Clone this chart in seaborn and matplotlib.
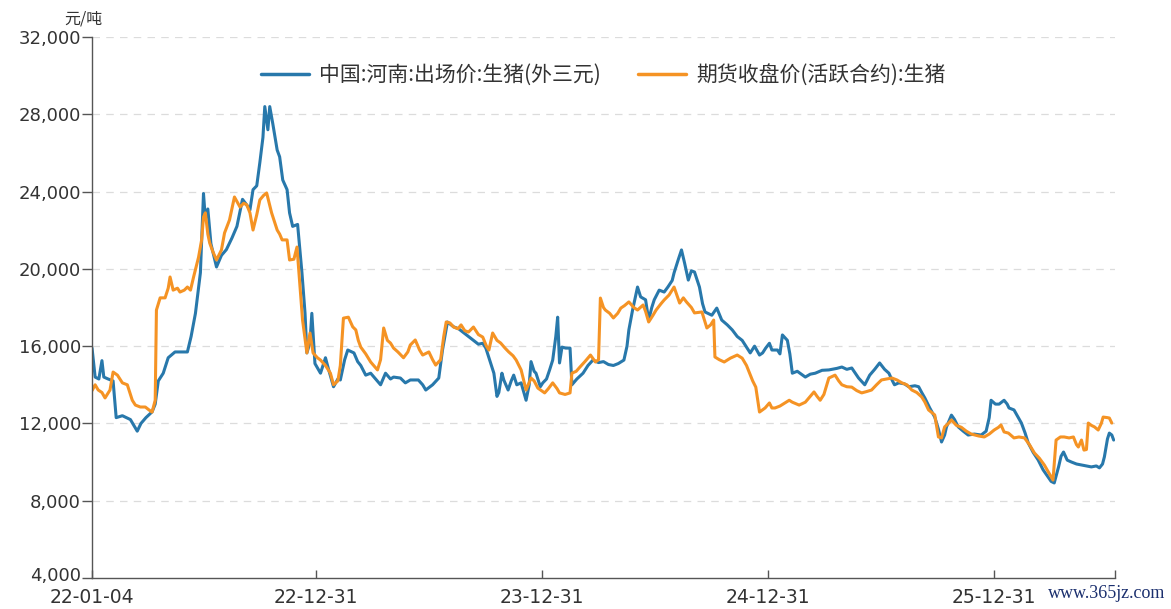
import pandas as pd
import numpy as np
import matplotlib
matplotlib.use("Agg")
import matplotlib.pyplot as plt
import matplotlib.transforms as mtransforms
from matplotlib.ticker import FuncFormatter
import seaborn as sns

# ----------------------------
# 数据
# ----------------------------
SERIES_SPOT = "中国:河南:出场价:生猪(外三元)"
SERIES_FUT = "期货收盘价(活跃合约):生猪"

spot_dates = [
    "2022-01-04", "2022-01-09", "2022-01-15", "2022-01-20", "2022-01-23", "2022-01-30", "2022-02-07",
    "2022-02-12", "2022-02-22", "2022-03-07", "2022-03-18", "2022-03-24", "2022-04-01", "2022-04-11",
    "2022-04-16", "2022-04-21", "2022-04-29", "2022-05-07", "2022-05-18", "2022-06-07", "2022-06-13",
    "2022-06-20", "2022-06-28", "2022-07-03", "2022-07-06", "2022-07-10", "2022-07-15", "2022-07-21",
    "2022-07-24", "2022-08-01", "2022-08-09", "2022-08-18", "2022-08-26", "2022-09-04", "2022-09-11",
    "2022-09-16", "2022-09-21", "2022-09-27", "2022-10-02", "2022-10-07", "2022-10-10", "2022-10-15",
    "2022-10-18", "2022-10-23", "2022-10-30", "2022-11-03", "2022-11-08", "2022-11-15", "2022-11-19",
    "2022-11-24", "2022-12-02", "2022-12-09", "2022-12-14", "2022-12-17", "2022-12-22", "2022-12-25",
    "2022-12-30",
    "2023-01-08", "2023-01-16", "2023-01-21", "2023-01-29", "2023-02-05", "2023-02-09", "2023-02-16",
    "2023-02-21", "2023-03-03", "2023-03-09", "2023-03-14", "2023-03-22", "2023-03-30", "2023-04-07",
    "2023-04-15", "2023-04-23", "2023-05-01", "2023-05-06", "2023-05-17", "2023-05-25", "2023-06-02",
    "2023-06-15", "2023-06-22", "2023-06-27", "2023-07-08", "2023-07-18", "2023-07-24", "2023-08-01",
    "2023-08-11", "2023-08-19", "2023-08-27", "2023-09-04", "2023-09-12", "2023-09-20", "2023-09-27",
    "2023-10-02", "2023-10-07", "2023-10-15", "2023-10-20", "2023-10-23", "2023-10-28", "2023-10-31",
    "2023-11-07", "2023-11-12", "2023-11-16", "2023-11-21", "2023-11-28", "2023-12-06", "2023-12-11",
    "2023-12-14", "2023-12-19", "2023-12-22", "2023-12-29",
    "2024-01-02", "2024-01-08", "2024-01-13", "2024-01-18", "2024-01-23", "2024-01-26", "2024-01-29",
    "2024-02-02", "2024-02-08", "2024-02-15", "2024-02-18", "2024-02-26", "2024-03-07", "2024-03-15",
    "2024-03-23", "2024-04-01", "2024-04-09", "2024-04-17", "2024-04-25", "2024-05-03", "2024-05-12",
    "2024-05-17", "2024-05-20", "2024-05-26", "2024-05-31", "2024-06-03", "2024-06-08", "2024-06-16",
    "2024-06-21", "2024-06-26", "2024-06-30", "2024-07-08", "2024-07-16", "2024-07-22", "2024-07-29",
    "2024-08-01", "2024-08-08", "2024-08-13", "2024-08-18", "2024-08-24", "2024-08-29", "2024-09-03",
    "2024-09-11", "2024-09-16", "2024-09-20", "2024-10-01", "2024-10-09", "2024-10-17", "2024-10-26",
    "2024-11-03", "2024-11-11", "2024-11-19", "2024-11-27", "2024-12-02", "2024-12-09", "2024-12-17",
    "2024-12-22", "2024-12-27",
    "2025-01-02", "2025-01-06", "2025-01-15", "2025-01-19", "2025-01-23", "2025-01-31", "2025-02-04",
    "2025-02-08", "2025-02-16", "2025-03-01", "2025-03-09", "2025-03-17", "2025-03-28", "2025-04-08",
    "2025-04-21", "2025-04-29", "2025-05-07", "2025-05-15", "2025-05-26", "2025-06-05", "2025-06-13",
    "2025-06-21", "2025-06-29", "2025-07-07", "2025-07-14", "2025-07-19", "2025-07-23", "2025-07-30",
    "2025-08-08", "2025-08-15", "2025-08-25", "2025-08-31", "2025-09-05", "2025-09-10", "2025-09-18",
    "2025-09-26", "2025-10-02", "2025-10-07", "2025-10-12", "2025-10-15", "2025-10-23", "2025-10-28",
    "2025-11-03", "2025-11-11", "2025-11-19", "2025-11-29", "2025-12-10", "2025-12-18", "2025-12-23",
    "2025-12-26",
    "2026-01-02", "2026-01-08", "2026-01-16", "2026-01-21", "2026-01-24", "2026-02-01", "2026-02-08",
    "2026-02-13", "2026-02-19", "2026-02-24", "2026-03-04", "2026-03-12", "2026-03-20", "2026-03-28",
    "2026-04-02", "2026-04-07", "2026-04-14", "2026-04-18", "2026-04-22", "2026-04-28", "2026-05-05",
    "2026-05-13", "2026-05-21", "2026-05-29", "2026-06-06", "2026-06-14", "2026-06-19", "2026-06-24",
    "2026-06-27", "2026-07-02", "2026-07-05", "2026-07-09", "2026-07-12",
]
spot_values = [
    15900, 14400, 14300, 15250, 14400, 14300, 14200,
    12300, 12400, 12200, 11600, 12000, 12300, 12600,
    13000, 14200, 14600, 15400, 15700, 15700, 16500,
    17700, 19800, 23900, 22600, 23100, 21300, 20500,
    20100, 20700, 21000, 21600, 22200, 23600, 23300,
    23050, 24100, 24300, 25500, 26800, 28400, 27200,
    28400, 27500, 26150, 25800, 24600, 24100, 22900,
    22200, 22300, 19800, 17700, 15650, 16200, 17700,
    15100,
    14600, 15400, 14800, 13900, 14300, 14250, 15300,
    15800, 15650, 15200, 15000, 14500, 14600, 14300,
    14000, 14600, 14300, 14400, 14350, 14100, 14250,
    14250, 14000, 13730, 14000, 14350, 15800, 17250,
    17000, 16900, 16700, 16500, 16300, 16100, 16150,
    15900, 15400, 14600, 13400, 13600, 14600, 14250,
    13730, 14200, 14500, 14000, 14100, 13200, 14000,
    15200, 14700, 14600, 13900,
    14100, 14300, 14770, 15280, 16500, 17500, 15130,
    15950, 15900, 15900, 14000, 14300, 14600, 15000,
    15280, 15150, 15200, 15050, 15000, 15100, 15280,
    16000, 16840, 17870, 18600, 19060, 18550, 18400,
    17350, 18000, 18400, 18900, 18800, 19060, 19400,
    19790, 20500, 20980, 20300, 19420, 19900, 19840,
    19060, 18200, 17770, 17600, 17970, 17350, 17100,
    16840, 16500, 16300, 15900, 15650, 16000, 15540,
    15650, 15900,
    16150, 15800, 15800, 15600, 16580, 16300, 15600,
    14600, 14700, 14400, 14550, 14600, 14750, 14770,
    14850, 14920, 14800, 14870, 14350, 14000, 14500,
    14800, 15130, 14800, 14600, 14250, 14000, 14100,
    14050, 13900, 13950, 13900, 13600, 13320, 12800,
    12330, 11700, 11040, 11400, 11820, 12430, 12200,
    11820, 11600, 11400, 11450, 11400, 11600, 12300,
    13200,
    13000, 13000, 13200, 13000, 12800, 12700, 12300,
    12020, 11500, 10990, 10500, 10110, 9600, 9230,
    9000, 8920, 9750, 10300, 10520, 10100, 10000,
    9900, 9850, 9800, 9750, 9800, 9700, 9900,
    10270, 11200, 11500, 11400, 11140,
]

fut_dates = [
    "2022-01-04", "2022-01-09", "2022-01-14", "2022-01-20", "2022-01-25", "2022-02-02", "2022-02-07",
    "2022-02-14", "2022-02-22", "2022-03-02", "2022-03-10", "2022-03-15", "2022-03-23", "2022-03-31",
    "2022-04-06", "2022-04-11", "2022-04-16", "2022-04-18", "2022-04-24", "2022-05-02", "2022-05-07",
    "2022-05-10", "2022-05-15", "2022-05-22", "2022-05-26", "2022-06-02", "2022-06-07", "2022-06-12",
    "2022-06-17", "2022-06-25", "2022-06-30", "2022-07-03", "2022-07-06", "2022-07-10", "2022-07-13",
    "2022-07-18", "2022-07-24", "2022-08-01", "2022-08-06", "2022-08-14", "2022-08-22", "2022-08-31",
    "2022-09-06", "2022-09-11", "2022-09-16", "2022-09-21", "2022-09-27", "2022-10-02", "2022-10-08",
    "2022-10-13", "2022-10-18", "2022-10-21", "2022-10-30", "2022-11-03", "2022-11-07", "2022-11-15",
    "2022-11-19", "2022-11-26", "2022-12-01", "2022-12-06", "2022-12-10", "2022-12-17", "2022-12-22",
    "2022-12-27",
    "2023-01-03", "2023-01-08", "2023-01-16", "2023-01-24", "2023-01-29", "2023-02-05", "2023-02-09",
    "2023-02-14", "2023-02-22", "2023-03-01", "2023-03-06", "2023-03-10", "2023-03-14", "2023-03-22",
    "2023-03-30", "2023-04-10", "2023-04-15", "2023-04-20", "2023-04-26", "2023-05-01", "2023-05-06",
    "2023-05-13", "2023-05-22", "2023-05-29", "2023-06-02", "2023-06-10", "2023-06-17", "2023-06-22",
    "2023-07-02", "2023-07-08", "2023-07-13", "2023-07-21", "2023-07-26", "2023-07-30", "2023-08-05",
    "2023-08-11", "2023-08-18", "2023-08-23", "2023-08-29", "2023-09-04", "2023-09-12", "2023-09-20",
    "2023-09-27", "2023-10-03", "2023-10-07", "2023-10-13", "2023-10-20", "2023-10-26", "2023-11-02",
    "2023-11-08", "2023-11-15", "2023-11-20", "2023-11-28", "2023-12-06", "2023-12-14", "2023-12-19",
    "2023-12-25",
    "2024-01-05", "2024-01-11", "2024-01-18", "2024-01-25", "2024-01-29", "2024-02-07", "2024-02-15",
    "2024-02-18", "2024-02-25", "2024-03-02", "2024-03-10", "2024-03-19", "2024-03-27", "2024-04-01",
    "2024-04-04", "2024-04-09", "2024-04-12", "2024-04-19", "2024-04-25", "2024-05-02", "2024-05-07",
    "2024-05-13", "2024-05-20", "2024-05-28", "2024-06-03", "2024-06-12", "2024-06-16", "2024-06-21",
    "2024-06-28", "2024-07-03", "2024-07-11", "2024-07-16", "2024-07-24", "2024-08-01", "2024-08-06",
    "2024-08-10", "2024-08-16", "2024-08-21", "2024-08-29", "2024-09-03", "2024-09-15", "2024-09-23",
    "2024-09-29", "2024-10-04", "2024-10-06", "2024-10-13", "2024-10-21", "2024-10-31", "2024-11-11",
    "2024-11-19", "2024-11-26", "2024-12-01", "2024-12-06", "2024-12-11", "2024-12-16", "2024-12-17",
    "2024-12-26",
    "2025-01-02", "2025-01-06", "2025-01-11", "2025-01-19", "2025-01-27", "2025-02-03", "2025-02-08",
    "2025-02-19", "2025-03-01", "2025-03-09", "2025-03-15", "2025-03-20", "2025-03-25", "2025-03-31",
    "2025-04-08", "2025-04-18", "2025-04-24", "2025-04-29", "2025-05-07", "2025-05-15", "2025-05-23",
    "2025-05-31", "2025-06-08", "2025-06-16", "2025-06-24", "2025-07-02", "2025-07-10", "2025-07-19",
    "2025-07-27", "2025-08-04", "2025-08-12", "2025-08-20", "2025-08-28", "2025-09-05", "2025-09-10",
    "2025-09-16", "2025-09-26", "2025-10-02", "2025-10-07", "2025-10-12", "2025-10-18", "2025-10-23",
    "2025-10-31", "2025-11-08", "2025-11-16", "2025-11-24", "2025-12-06", "2025-12-15", "2025-12-23",
    "2025-12-31",
    "2026-01-07", "2026-01-11", "2026-01-16", "2026-01-23", "2026-02-01", "2026-02-09", "2026-02-18",
    "2026-02-26", "2026-03-06", "2026-03-14", "2026-03-22", "2026-03-30", "2026-04-05", "2026-04-10",
    "2026-04-17", "2026-04-23", "2026-05-01", "2026-05-08", "2026-05-13", "2026-05-16", "2026-05-21",
    "2026-05-25", "2026-05-29", "2026-06-01", "2026-06-06", "2026-06-11", "2026-06-17", "2026-06-22",
    "2026-06-25", "2026-07-02", "2026-07-05", "2026-07-09",
]
fut_values = [
    13700, 14000, 13730, 13600, 13320, 13730, 14660,
    14500, 14100, 14000, 13200, 12950, 12850, 12850,
    12700, 12590, 13200, 17870, 18500, 18500, 19000,
    19580, 18900, 19000, 18800, 18900, 19060, 18900,
    19580, 20600, 21500, 22680, 22900, 21800, 21340,
    20900, 20460, 20980, 21860, 22530, 23720, 23200,
    23400, 23310, 22900, 22010, 22800, 23570, 23800,
    23930, 23300, 22900, 22010, 21800, 21500, 21500,
    20460, 20500, 21130, 19060, 17350, 15650, 16680,
    15650,
    15400, 15280, 15000, 14600, 14000, 14200, 15000,
    17450, 17500, 17000, 16840, 16300, 15950, 15600,
    15180, 14770, 15300, 16940, 16300, 16160, 15900,
    15700, 15400, 15700, 16060, 16320, 15800, 15540,
    15700, 15300, 15020, 15300, 16500, 17250, 17200,
    16990, 16900, 17100, 16800, 16730, 16990, 16600,
    16470, 16000, 15800, 16680, 16300, 16160, 15900,
    15700, 15500, 15280, 14770, 13730, 14350, 14200,
    13830,
    13580, 13800, 14100, 13800, 13580, 13500, 13580,
    14600, 14700, 14920, 15200, 15540, 15180, 15300,
    18490, 18000, 17870, 17700, 17460, 17700, 17970,
    18100, 18290, 18000, 17870, 18130, 17800, 17250,
    17600, 17870, 18200, 18390, 18650, 19060, 18600,
    18230, 18500, 18290, 18000, 17720, 17770, 16940,
    17100, 17350, 15440, 15300, 15180, 15380, 15540,
    15380, 15000, 14600, 14200, 13880, 12800, 12590,
    12800,
    13060, 12800, 12800, 12900, 13060, 13200, 13100,
    12950, 13100, 13400, 13630, 13400, 13200, 13500,
    14350, 14500, 14200, 14000, 13900, 13880, 13700,
    13580, 13650, 13730, 14000, 14250, 14300, 14350,
    14250, 14100, 14000, 13730, 13600, 13370, 13110,
    12700, 12440, 11300, 11250, 11820, 12000, 12180,
    11900, 11800, 11600, 11450, 11350, 11300, 11450,
    11660,
    11800, 11920, 11560, 11500, 11250, 11300, 11250,
    10900, 10470, 10200, 9850, 9400, 9070, 11140,
    11300, 11300, 11250, 11300, 10900, 10780, 11140,
    10620, 10650, 12020, 11900, 11820, 11660, 12000,
    12330, 12300, 12280, 12020,
]

x_tick_dates = ["2022-01-04", "2022-12-31", "2023-12-31", "2024-12-31", "2025-12-31", "2026-07-14"]
x_tick_labels = ["22-01-04", "22-12-31", "23-12-31", "24-12-31", "25-12-31", ""]
y_ticks = [4000, 8000, 12000, 16000, 20000, 24000, 28000, 32000]
unit_label = "元/吨"

COLORS = {SERIES_SPOT: "#2878AB", SERIES_FUT: "#F59324"}

df = pd.concat([
    pd.DataFrame({"date": pd.to_datetime(spot_dates), "value": spot_values, "series": SERIES_SPOT}),
    pd.DataFrame({"date": pd.to_datetime(fut_dates), "value": fut_values, "series": SERIES_FUT}),
], ignore_index=True)

# ----------------------------
# 绘图
# ----------------------------
sns.set_theme(style="white")
plt.rcParams['font.family'] = ['Noto Sans CJK SC', 'DejaVu Sans']
plt.rcParams['axes.unicode_minus'] = False

fig = plt.figure(figsize=(11.71, 6.09), dpi=100)
ax = fig.add_axes([0.0786, 0.0509, 0.8735, 0.8883])

sns.lineplot(data=df, x="date", y="value", hue="series", palette=COLORS,
             hue_order=[SERIES_SPOT, SERIES_FUT], estimator=None, sort=True,
             linewidth=2.2, ax=ax)

ax.set_xlim(pd.Timestamp("2022-01-04"), pd.Timestamp(x_tick_dates[-1]))
ax.set_ylim(y_ticks[0], y_ticks[-1])
ax.set_yticks(y_ticks)
ax.yaxis.set_major_formatter(FuncFormatter(lambda v, p: f"{int(v):,}"))
ax.set_xticks(pd.to_datetime(x_tick_dates))
ax.set_xticklabels(x_tick_labels)
ax.set_xlabel("")
ax.set_ylabel("")

for v in y_ticks[1:]:
    ax.axhline(v, color="#dcdcdc", linewidth=0.9, linestyle=(0, (6, 5)), zorder=0)

for s in ["top", "right"]:
    ax.spines[s].set_visible(False)
for s in ["left", "bottom"]:
    ax.spines[s].set_color("#555555")
    ax.spines[s].set_linewidth(1.0)

ax.tick_params(axis="y", direction="out", length=7, width=1, color="#555555",
               labelsize=13, labelcolor="#333333", pad=1, left=True)
ax.tick_params(axis="x", direction="in", length=6, width=1, color="#555555",
               labelsize=13.5, labelcolor="#333333", pad=7, bottom=True)
for lab in ax.get_xticklabels() + ax.get_yticklabels():
    lab.set_family(['DejaVu Sans'])

# 最底部的 y 刻度标签略微上移，避免与 x 轴首个标签重叠
shift_up = mtransforms.ScaledTranslation(0, 3 / 72, fig.dpi_scale_trans)
ax.get_yticklabels()[0].set_transform(ax.get_yticklabels()[0].get_transform() + shift_up)

ax.text(-0.027, 1.018, unit_label, transform=ax.transAxes, fontsize=11.5,
        color="#333333", ha="left", va="bottom")

leg = ax.legend(loc="upper center", bbox_to_anchor=(0.5, 0.985), ncol=2, frameon=False,
                fontsize=15, handlelength=2.3, columnspacing=1.8, handletextpad=0.5)
for line in leg.get_lines():
    line.set_linewidth(2.5)
for t in leg.get_texts():
    t.set_color("#333333")

fig.text(0.995, 0.012, "www.365jz.com", ha="right", va="bottom", fontsize=13,
         color="#1b2f6e", family=["Liberation Serif"])

fig.savefig("out.png", dpi=100)
